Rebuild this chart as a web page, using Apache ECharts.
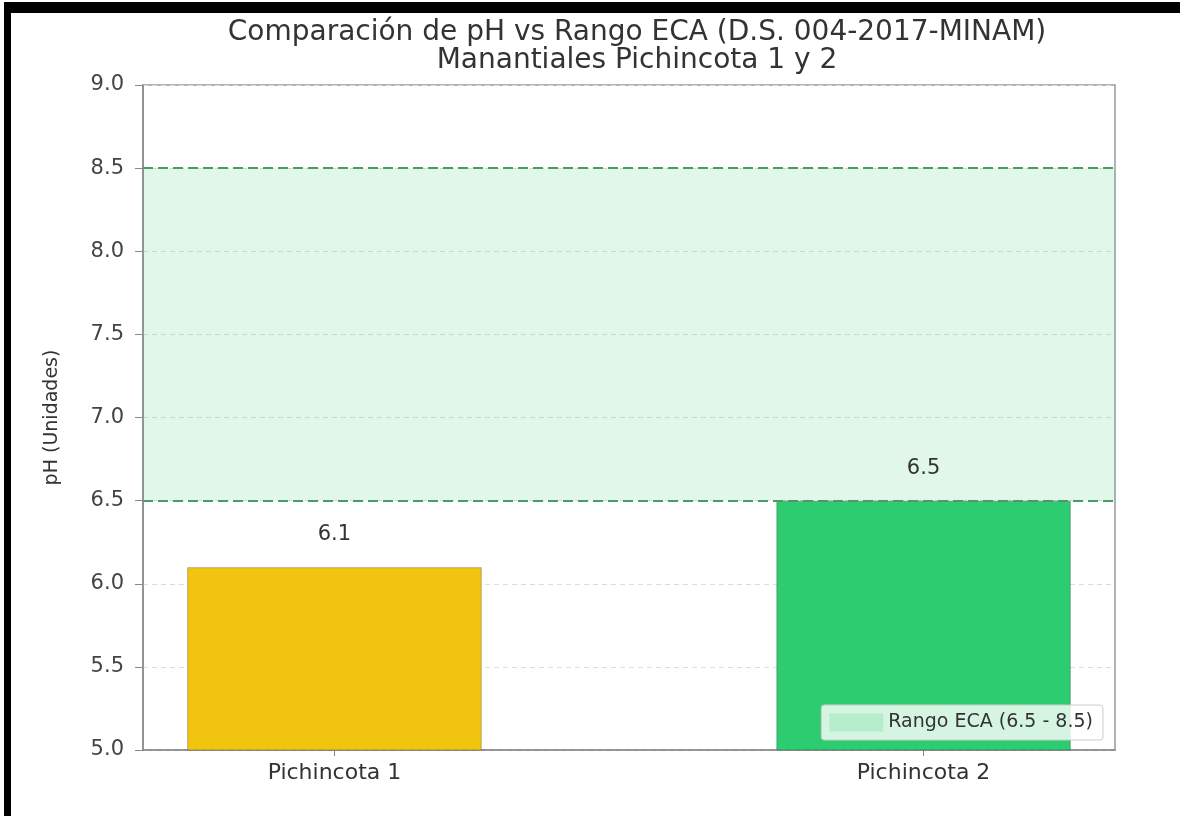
<!DOCTYPE html>
<html>
<head>
<meta charset="utf-8">
<script src="https://cdn.jsdelivr.net/npm/echarts@6/dist/echarts.min.js"></script>
<style>
  html, body { margin: 0; padding: 0; background: #fff; }
  #chart { width: 1180px; height: 816px; }
  /* black frame of the screenshot (top + left edges only) */
  #frame {
    position: absolute; left: 4px; top: 2px; right: 0; bottom: 0;
    border-top: 11px solid #000; border-left: 7px solid #000;
    pointer-events: none;
  }
</style>
</head>
<body>
<div id="chart"></div>
<div id="frame"></div>
<script>
// data
const categories = ['Pichincota 1', 'Pichincota 2']
const phValues = [6.1, 6.5]
const barColors = ['#F1C40F', '#2ECC71']
const ecaRange = [6.5, 8.5]          // D.S. 004-2017-MINAM
const yMin = 5.0, yMax = 9.0, yStep = 0.5
const legendName = 'Rango ECA (6.5 - 8.5)'

// matplotlib-like x range: bars of width 0.5 plus 5% margins
const xMin = -0.325, xMax = 1.325
const grid = {left: 143, top: 85, right: 65, bottom: 66}
const plotW = 1180 - grid.left - grid.right
const barW = 0.5 * plotW / (xMax - xMin)

const font = 'DejaVu Sans'
const chart = echarts.init(document.getElementById('chart'))

chart.setOption({
  animation: false,
  textStyle: {fontFamily: font},
  title: {
    text: 'Comparación de pH vs Rango ECA (D.S. 004-2017-MINAM)\nManantiales Pichincota 1 y 2',
    left: 632, top: 14, textAlign: 'center',
    textStyle: {fontFamily: font, fontSize: 28, fontWeight: 'normal', color: '#333', lineHeight: 28}
  },
  grid: Object.assign({show: true, borderColor: '#999', borderWidth: 1.5, backgroundColor: 'transparent'}, grid),
  legend: {
    data: [{name: legendName, icon: 'rect'}],
    right: 77, bottom: 76,
    itemWidth: 54, itemHeight: 18, itemGap: 10,
    padding: [8, 10, 8, 8],
    backgroundColor: 'rgba(255,255,255,0.8)',
    borderColor: '#ccc', borderWidth: 1, borderRadius: 3,
    textStyle: {fontFamily: font, fontSize: 19, color: '#333'}
  },
  xAxis: {
    type: 'value', min: xMin, max: xMax,
    axisLine: {show: true, onZero: false, lineStyle: {color: '#888', width: 1.5}},
    axisTick: {show: true, length: 6, customValues: categories.map((c, i) => i), lineStyle: {color: '#888'}},
    axisLabel: {
      customValues: categories.map((c, i) => i),
      formatter: v => categories[Math.round(v)],
      fontFamily: font, fontSize: 22, color: '#333', margin: 12
    },
    splitLine: {show: false}
  },
  yAxis: {
    type: 'value', min: yMin, max: yMax, interval: yStep,
    name: 'pH (Unidades)', nameLocation: 'middle', nameGap: 81, nameRotate: 90,
    nameTextStyle: {fontFamily: font, fontSize: 19, color: '#333'},
    axisLine: {show: true, onZero: false, lineStyle: {color: '#888', width: 1.5}},
    axisTick: {show: true, length: 8, lineStyle: {color: '#888'}},
    axisLabel: {formatter: v => v.toFixed(1), fontFamily: font, fontSize: 21, color: '#444', margin: 19},
    splitLine: {show: true, lineStyle: {color: '#ddd', type: [5, 4], width: 1}}
  },
  series: [
    {
      // ECA band + its legend entry
      name: legendName, type: 'line', data: [], z: 1,
      itemStyle: {color: 'rgba(46,204,113,0.18)'},
      markArea: {
        silent: true,
        itemStyle: {color: 'rgba(46,204,113,0.15)'},
        data: [[{yAxis: ecaRange[0]}, {yAxis: ecaRange[1]}]]
      }
    },
    {
      type: 'bar', z: 3, barWidth: barW,
      data: phValues.map((v, i) => ({value: [i, v], itemStyle: {color: barColors[i]}})),
      itemStyle: {borderColor: 'rgba(0,0,0,0.25)', borderWidth: 1},
      label: {
        show: true, position: 'top', distance: 22,
        formatter: p => p.value[1].toFixed(1),
        fontFamily: font, fontSize: 21, color: '#333'
      }
    },
    {
      // dashed limits on top of the bars
      type: 'line', data: [], z: 5,
      markLine: {
        silent: true, symbol: 'none', label: {show: false},
        lineStyle: {color: '#4c9a64', type: [10, 5], width: 2},
        data: ecaRange.map(v => ({yAxis: v}))
      }
    }
  ]
})
</script>
</body>
</html>
